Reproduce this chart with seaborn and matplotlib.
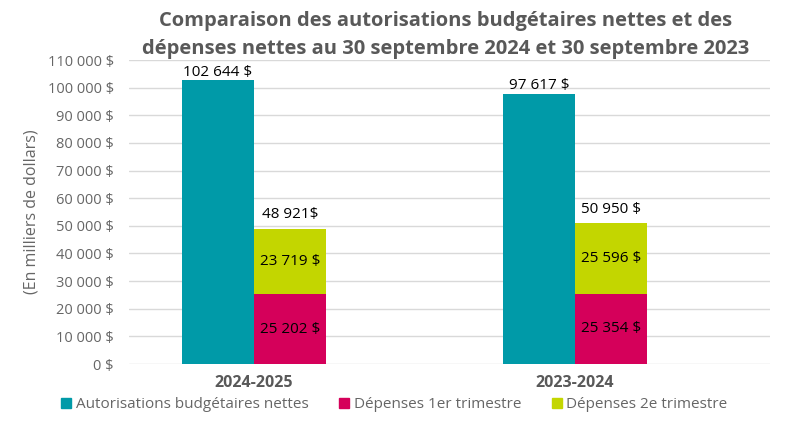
import numpy as np
import pandas as pd
import matplotlib
matplotlib.use("Agg")
import matplotlib.pyplot as plt
import seaborn as sns

# ================= DATA =================

years = ["2024-2025", "2023-2024"]
autorisations = [102644, 97617]
depenses_t1 = [25202, 25354]
depenses_t2 = [23719, 25596]
total_labels = ["48 921$", "50 950 $"]

series_names = ["Autorisations budgétaires nettes", "Dépenses 1er trimestre", "Dépenses 2e trimestre"]
colors = ["#009AA8", "#D5005A", "#C3D600"]

y_ticks = list(range(0, 110001, 10000))

TITLE = "Comparaison des autorisations budgétaires nettes et des\ndépenses nettes au 30 septembre 2024 et 30 septembre 2023"
YLABEL = "(En milliers de dollars)"

GRAY = "#595959"


def money(v):
    return f"{v:,}".replace(",", " ") + " $"


# ================= PLOT =================

sns.set_style("white")
plt.rcParams["font.family"] = ["Open Sans", "DejaVu Sans"]

df = pd.DataFrame({
    "annee": years * 2,
    "serie": [series_names[0]] * 2 + [series_names[1]] * 2,
    "valeur": autorisations + depenses_t1,
})

fig = plt.figure(figsize=(7.89, 4.26), dpi=100)
ax = fig.add_axes([0.1635, 0.1455, 0.8124, 0.7136])

sns.barplot(
    data=df, x="annee", y="valeur", hue="serie",
    hue_order=series_names[:2], palette=colors[:2],
    width=0.448, saturation=1, errorbar=None, ax=ax, legend=False,
    linewidth=0, edgecolor="none",
)

x = np.arange(len(years))
bw = 0.224
ax.bar(x + bw / 2, depenses_t2, width=bw, bottom=depenses_t1, color=colors[2], linewidth=0)

ax.set_xlim(-0.389, 1.607)
ax.set_ylim(0, 110000)
ax.set_yticks(y_ticks)
ax.set_yticklabels([money(t) for t in y_ticks], fontsize=10.5, color="#666666")
ax.yaxis.grid(True, color="#D9D9D9", linewidth=1)
ax.set_axisbelow(True)
for s in ["top", "right", "left", "bottom"]:
    ax.spines[s].set_visible(False)
ax.tick_params(axis="y", length=0, pad=11)
ax.tick_params(axis="x", length=0, pad=8)
ax.set_xticks(x)
ax.set_xticklabels(years, fontsize=11.5, fontweight="bold", color=GRAY)
ax.set_xlabel("")
ax.set_ylabel(YLABEL, fontsize=11.5, color="#666666", labelpad=6)

# data labels
for i in range(len(years)):
    ax.text(x[i] - bw / 2, autorisations[i] + 300, money(autorisations[i]),
            ha="center", va="bottom", fontsize=11, color="black")
    ax.text(x[i] + bw / 2, depenses_t1[i] / 2, money(depenses_t1[i]),
            ha="center", va="center", fontsize=11, color="black")
    ax.text(x[i] + bw / 2, depenses_t1[i] + depenses_t2[i] / 2, money(depenses_t2[i]),
            ha="center", va="center", fontsize=11, color="black")
    ax.text(x[i] + bw / 2, depenses_t1[i] + depenses_t2[i] + 2300, total_labels[i],
            ha="center", va="bottom", fontsize=11, color="black")

fig.suptitle(TITLE, x=0.565, y=0.975, fontsize=14.5, fontweight="bold", color=GRAY, linespacing=1.55)

handles = [plt.Rectangle((0, 0), 1, 1, color=c) for c in colors]
leg = fig.legend(handles, series_names, loc="center", bbox_to_anchor=(0.5, 0.05), ncol=3,
                 frameon=False, handlelength=0.65, handleheight=0.65, handletextpad=0.3,
                 columnspacing=2.0, fontsize=11)
for t in leg.get_texts():
    t.set_color("#666666")

plt.savefig("out.png", dpi=100)
